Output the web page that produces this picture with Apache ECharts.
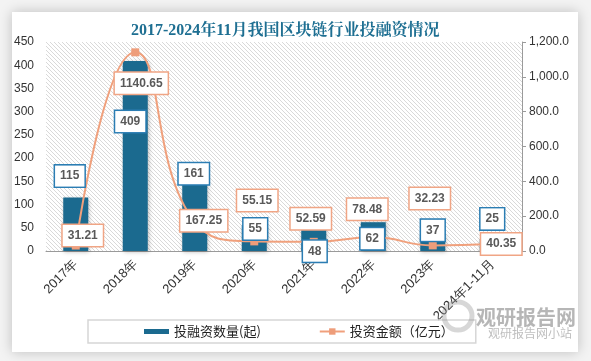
<!DOCTYPE html>
<html><head><meta charset="utf-8">
<script src="https://cdn.jsdelivr.net/npm/echarts@6/dist/echarts.min.js"></script>
<style>html,body{margin:0;padding:0;background:#f3f3f3;}#c{width:591px;height:361px;}</style>
</head><body><div id="c"></div>
<script>
var categories = ['2017年','2018年','2019年','2020年','2021年','2022年','2023年','2024年1-11月'];
var dealCounts = [115, 409, 161, 55, 48, 62, 37, 25];
var amounts = [31.21, 1140.65, 167.25, 55.15, 52.59, 78.48, 32.23, 40.35];
var leftTicks = {min: 0, max: 450, interval: 50};
var rightTicks = {min: 0, max: 1200, interval: 200};
var seriesNames = ['投融资数量(起)', '投资金额（亿元）'];

// label placement tweaks (pixel offsets)
var barLabelOffsets = [[-6,-11],[-5,71],[-1,8],[1,14],[1,33],[-1,27],[0,7],[0,-10]];
var lineLabelOffsets = [[7,-10],[6,31],[9,-1],[3,-41],[-3,-23],[-6,-28],[-3,-47],[9,0]];

function hatch(){
  var cv = document.createElement('canvas'); cv.width = 4; cv.height = 4;
  var g = cv.getContext('2d');
  g.fillStyle = '#ffffff'; g.fillRect(0,0,4,4);
  g.fillStyle = '#d9d9d9';
  for (var i=0;i<4;i++){ g.fillRect(i,i,1,1); }
  return {image: cv, repeat: 'repeat'};
}

var chart = echarts.init(document.getElementById('c'), null, {renderer:'canvas'});
var labelFont = 'Liberation Sans, Arial, sans-serif';
var barLabelStyle = {show:true, position:'top', distance:0, color:'#595959', fontSize:12, fontWeight:'bold', fontFamily:labelFont,
        backgroundColor:'#fff', borderColor:'#2b7db3', borderWidth:1.5, padding:[4,5], lineHeight:13};
var option = {
  animation: false,
  backgroundColor: 'transparent',
  graphic: [
    {type:'rect', z:-100, shape:{x:12,y:12,width:566,height:340},
     style:{fill:'#ffffff', shadowBlur:12, shadowColor:'rgba(0,0,0,0.22)'}},
    {type:'circle', z:50, shape:{cx:458, cy:316, r:14}, style:{fill:'none', stroke:'rgba(140,140,140,0.35)', lineWidth:5}},
    {type:'text', z:50, left:476, top:307, style:{text:'观研报告网', fill:'rgba(110,110,110,0.5)', font:'bold 20px "Noto Sans CJK SC"'}},
    {type:'text', z:50, left:488, top:327, style:{text:'观研报告网小站', fill:'rgba(110,110,110,0.45)', font:'12px "Noto Sans CJK SC"'}}
  ],
  title: {
    text: '2017-2024年11月我国区块链行业投融资情况',
    left: 126, top: 18,
    textStyle: {color:'#1e6f92', fontSize:16, fontWeight:'bold', fontFamily:'Liberation Serif, "Noto Serif CJK SC", "Noto Sans CJK SC", serif'}
  },
  legend: {
    left: 88, top: 320,
    padding: [5, 22, 5, 56],
    borderColor: '#d6d6d6', borderWidth: 1.5,
    itemWidth: 25, itemHeight: 8, itemGap: 58,
    textStyle: {color:'#222', fontSize:13, fontFamily:'"Noto Sans CJK SC", sans-serif'},
    data: [
      {name: seriesNames[0], icon: 'path://M0,0 L25,0 L25,5 L0,5 Z'},
      {name: seriesNames[1]}
    ]
  },
  grid: {left:46, right:69, top:42, bottom:110, show:true, backgroundColor: hatch(), borderWidth:0},
  xAxis: {
    type:'category', data: categories,
    axisLine:{lineStyle:{color:'#9a9a9a', width:1}},
    axisTick:{show:false},
    axisLabel:{rotate:45, color:'#333', fontSize:13, margin:11, fontFamily:labelFont, interval:0}
  },
  yAxis: [
    {type:'value', min:leftTicks.min, max:leftTicks.max, interval:leftTicks.interval,
     axisLine:{show:false}, axisTick:{show:false}, splitLine:{show:false},
     axisLabel:{color:'#333', fontSize:12, margin:12, fontFamily:labelFont}},
    {type:'value', min:rightTicks.min, max:rightTicks.max, interval:rightTicks.interval,
     axisLine:{show:true, lineStyle:{color:'#9a9a9a'}}, axisTick:{show:true, length:4, lineStyle:{color:'#9a9a9a'}}, splitLine:{show:false},
     axisLabel:{color:'#333', fontSize:12, margin:7, fontFamily:labelFont,
       formatter:function(v){return v.toLocaleString('en-US',{minimumFractionDigits:1, maximumFractionDigits:1});}}}
  ],
  series: [
    {
      name: seriesNames[0], type:'bar', yAxisIndex:0, barWidth:25, barGap:'-100%',
      itemStyle:{color:'#1b6a8f', shadowBlur:4, shadowColor:'rgba(0,0,0,0.25)', shadowOffsetX:1, shadowOffsetY:1},
      label:{show:false},
      data: dealCounts,
      z: 2
    },
    {
      name: seriesNames[1], type:'line', yAxisIndex:1, smooth:true,
      symbol:'rect', symbolSize:8,
      lineStyle:{color:'#f0a07c', width:2},
      itemStyle:{color:'#ee9d7a'},
      label:{show:true, position:'inside', color:'#595959', fontSize:12, fontWeight:'bold', fontFamily:labelFont,
        backgroundColor:'#fff', borderColor:'#f0a585', borderWidth:1.5, padding:[4,5], lineHeight:13},
      data: amounts.map(function(v,i){return {value:v, label:{offset:lineLabelOffsets[i]}};}),
      z: 3
    },
    {
      name: 'barLabels', type:'bar', yAxisIndex:0, barWidth:25, barGap:'-100%', silent:true,
      itemStyle:{color:'rgba(0,0,0,0)'},
      label: barLabelStyle,
      data: dealCounts.map(function(v,i){return {value:v, label:{offset:barLabelOffsets[i]}};}),
      z: 5
    }
  ]
};
chart.setOption(option);
</script></body></html>
